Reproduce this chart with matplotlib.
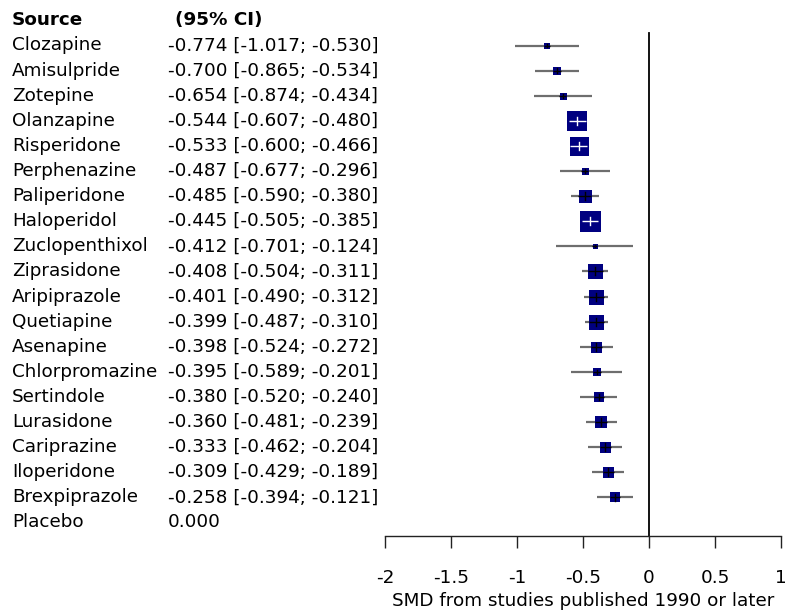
import matplotlib
matplotlib.use("Agg")
import matplotlib.pyplot as plt
from matplotlib.transforms import blended_transform_factory

plt.rcParams['font.family'] = ['DejaVu Sans']
FS = 13.2

treatments = ["Clozapine", "Amisulpride", "Zotepine", "Olanzapine", "Risperidone",
              "Perphenazine", "Paliperidone", "Haloperidol", "Zuclopenthixol",
              "Ziprasidone", "Aripiprazole", "Quetiapine", "Asenapine",
              "Chlorpromazine", "Sertindole", "Lurasidone", "Cariprazine",
              "Iloperidone", "Brexpiprazole", "Placebo"]
smd = [-0.774, -0.700, -0.654, -0.544, -0.533, -0.487, -0.485, -0.445, -0.412,
       -0.408, -0.401, -0.399, -0.398, -0.395, -0.380, -0.360, -0.333, -0.309,
       -0.258, 0.000]
lower = [-1.017, -0.865, -0.874, -0.607, -0.600, -0.677, -0.590, -0.505, -0.701,
         -0.504, -0.490, -0.487, -0.524, -0.589, -0.520, -0.481, -0.462, -0.429,
         -0.394, None]
upper = [-0.530, -0.534, -0.434, -0.480, -0.466, -0.296, -0.380, -0.385, -0.124,
         -0.311, -0.312, -0.310, -0.272, -0.201, -0.240, -0.239, -0.204, -0.189,
         -0.121, None]
# relative weight of each comparison (drives box size)
weight = [6.5, 8, 7, 20, 19, 7, 13, 21, 5, 15, 15, 15, 11, 7.5, 9.5, 12, 11, 11, 10, None]

xticks = [-2, -1.5, -1, -0.5, 0, 0.5, 1]
xtick_labels = ["-2", "-1.5", "-1", "-0.5", "0", "0.5", "1"]
xlabel = "SMD from studies published 1990 or later"

W, H, DPI = 786, 611, 100
fig = plt.figure(figsize=(W / DPI, H / DPI), dpi=DPI)

# plot region in pixels
x_left, x_right = 385, 781
y_top, y_axis = 0, 536
row0, row_step = 45.5, 25.1

ax = fig.add_axes([x_left / W, (H - y_axis) / H, (x_right - x_left) / W, (y_axis - y_top) / H])
ax.set_xlim(-2, 1)
ax.set_ylim((y_axis - row0) / row_step, (y_top - row0) / row_step)

px_per_unit = (x_right - x_left) / 3.0

for i, (m, lo, hi, w) in enumerate(zip(smd, lower, upper, weight)):
    if w is None:
        continue
    ax.plot([lo, hi], [i, i], color="#6e6e6e", lw=1.6, solid_capstyle="butt", zorder=2)
    side_pt = w * 72.0 / DPI
    ax.scatter([m], [i], marker="s", s=side_pt ** 2, color="#000080",
               linewidths=0, zorder=3)
    half = w / 2.0 / px_per_unit
    inside = (m - lo) < half and (hi - m) < half
    c = "white" if inside else "black"
    a, b = max(lo, m - half), min(hi, m + half)
    ax.plot([a, b], [i, i], color=c, lw=1.0, solid_capstyle="butt", zorder=4)
    tick = min(w / 2.0 - 1.5, 4) / row_step
    if tick > 0:
        ax.plot([m, m], [i - tick, i + tick], color=c, lw=1.0, zorder=4)

# line of no effect
ax.plot([0, 0], [(33 - row0) / row_step, (y_axis - row0) / row_step], color="black",
        lw=1.3, zorder=1, clip_on=False)

for s in ["top", "right", "left"]:
    ax.spines[s].set_visible(False)
ax.spines["bottom"].set_linewidth(1.0)
ax.spines["bottom"].set_color("#222222")
ax.set_yticks([])
ax.set_xticks(xticks)
ax.set_xticklabels(xtick_labels, fontsize=FS)
ax.tick_params(axis="x", direction="out", length=8.5, width=1.0, pad=15, color="#222222")
ax.set_xlabel(xlabel, fontsize=FS, labelpad=4)
ax.patch.set_visible(False)

trans = blended_transform_factory(fig.transFigure, ax.transData)
head_y = (20 - row0) / row_step
fig.text(12 / W, head_y, "Source", transform=trans, fontsize=FS, fontweight="bold",
         va="center", ha="left")
fig.text(175 / W, head_y, "(95% CI)", transform=trans, fontsize=FS, fontweight="bold",
         va="center", ha="left")
for i, (name, m, lo, hi) in enumerate(zip(treatments, smd, lower, upper)):
    fig.text(12 / W, i, name, transform=trans, fontsize=FS, va="center", ha="left")
    if lo is None:
        label = f"{m:.3f}"
    else:
        label = f"{m:.3f} [{lo:.3f}; {hi:.3f}]"
    fig.text(168 / W, i, label, transform=trans, fontsize=FS, va="center", ha="left")

fig.savefig("out.png", dpi=DPI)
